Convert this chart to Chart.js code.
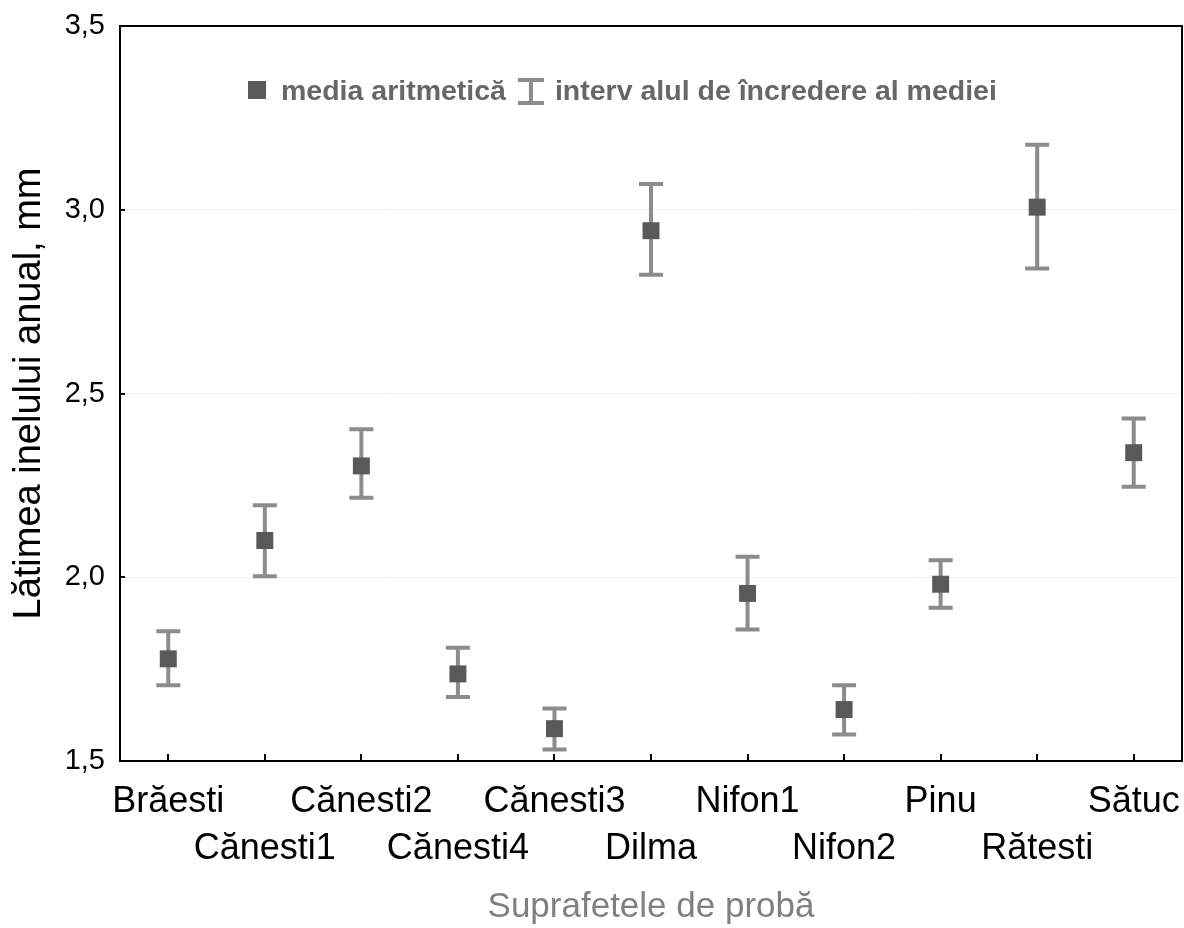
<!DOCTYPE html>
<html>
<head>
<meta charset="utf-8">
<script src="https://cdn.jsdelivr.net/npm/chart.js@4.4.0/dist/chart.umd.min.js"></script>
<style>
  html, body { margin: 0; padding: 0; background: #fff; }
  #wrap { width: 1184px; height: 928px; }
</style>
</head>
<body>
<div id="wrap"><canvas id="c" width="1184" height="928"></canvas></div>
<script>
// Sample plots and mean annual ring width (mm) with 95% confidence limits
const sites = ['Brăesti', 'Cănesti1', 'Cănesti2', 'Cănesti4', 'Cănesti3', 'Dilma', 'Nifon1', 'Nifon2', 'Pinu', 'Rătesti', 'Sătuc'];
const meanWidth = [1.778, 2.100, 2.303, 1.737, 1.588, 2.943, 1.956, 1.640, 1.981, 3.007, 2.339];
const ciLow     = [1.706, 2.003, 2.216, 1.674, 1.531, 2.823, 1.858, 1.572, 1.917, 2.840, 2.246];
const ciHigh    = [1.853, 2.196, 2.403, 1.808, 1.643, 3.070, 2.056, 1.706, 2.046, 3.177, 2.432];
const yTicks    = [1.5, 2.0, 2.5, 3.0, 3.5];

const FONT = '"Liberation Sans", Arial, sans-serif';
Chart.defaults.font.family = FONT;

const BAR_COLOR = '#8c8c8c';
const MARK_COLOR = '#595959';

// Confidence interval whiskers, drawn beneath the mean markers
const errorBars = {
  id: 'errorBars',
  beforeDatasetsDraw(chart) {
    const { ctx, scales: { x, y } } = chart;
    ctx.save();
    ctx.strokeStyle = BAR_COLOR;
    ctx.lineWidth = 4;
    sites.forEach((s, i) => {
      const px = x.getPixelForValue(i);
      const top = y.getPixelForValue(ciHigh[i]);
      const bot = y.getPixelForValue(ciLow[i]);
      ctx.beginPath();
      ctx.moveTo(px, top); ctx.lineTo(px, bot);
      ctx.moveTo(px - 12, top); ctx.lineTo(px + 12, top);
      ctx.moveTo(px - 12, bot); ctx.lineTo(px + 12, bot);
      ctx.stroke();
    });
    ctx.restore();
  }
};

// Plot frame with small inward tick marks
const frame = {
  id: 'frame',
  afterDraw(chart) {
    const { ctx, chartArea: a, scales: { x, y } } = chart;
    ctx.save();
    ctx.strokeStyle = '#000';
    ctx.lineWidth = 2;
    ctx.strokeRect(a.left, a.top, a.right - a.left, a.bottom - a.top);
    ctx.beginPath();
    sites.forEach((s, i) => {
      const px = Math.round(x.getPixelForValue(i));
      ctx.moveTo(px, a.bottom); ctx.lineTo(px, a.bottom - 7);
    });
    yTicks.slice(1, -1).forEach(v => {
      const py = Math.round(y.getPixelForValue(v));
      ctx.moveTo(a.left, py); ctx.lineTo(a.left + 5, py);
    });
    ctx.stroke();
    ctx.restore();
  }
};

// Legend placed inside the plot area
const legendBox = {
  id: 'legendBox',
  afterDraw(chart) {
    const { ctx, chartArea: a } = chart;
    ctx.save();
    const cy = a.top + 64;
    let x = a.left + 128;
    ctx.fillStyle = MARK_COLOR;
    ctx.fillRect(x, cy - 9, 18, 18);
    x += 33;
    ctx.font = 'bold 28.5px ' + FONT;
    ctx.fillStyle = '#676767';
    ctx.textBaseline = 'middle';
    const t1 = 'media aritmetică';
    ctx.fillText(t1, x, cy + 2);
    x += ctx.measureText(t1).width + 12;
    // whisker symbol
    ctx.strokeStyle = BAR_COLOR;
    ctx.lineWidth = 4;
    ctx.beginPath();
    ctx.moveTo(x + 13, cy - 10); ctx.lineTo(x + 13, cy + 13);
    ctx.moveTo(x, cy - 10); ctx.lineTo(x + 26, cy - 10);
    ctx.moveTo(x, cy + 13); ctx.lineTo(x + 26, cy + 13);
    ctx.stroke();
    x += 37;
    ctx.fillText('interv alul de încredere al mediei', x, cy + 2);
    ctx.restore();
  }
};

new Chart(document.getElementById('c'), {
  type: 'line',
  data: {
    labels: sites,
    datasets: [{
      label: 'media aritmetică',
      data: meanWidth,
      showLine: false,
      pointStyle: 'rect',
      pointRadius: 12,
      pointHoverRadius: 12,
      pointBorderWidth: 0,
      backgroundColor: MARK_COLOR,
      borderColor: MARK_COLOR
    }]
  },
  options: {
    responsive: false,
    animation: false,
    devicePixelRatio: 1,
    layout: { autoPadding: false, padding: { top: 26, right: 2, bottom: 0, left: 0 } },
    plugins: { legend: { display: false }, tooltip: { enabled: false } },
    scales: {
      x: {
        offset: true,
        grid: { display: false, drawTicks: false },
        border: { display: false },
        ticks: {
          autoSkip: false,
          maxRotation: 0,
          minRotation: 0,
          padding: 18,
          color: '#000',
          font: { size: 36, lineHeight: 1.3 },
          callback: (v, i) => (i % 2 === 0 ? [sites[i], ''] : ['', sites[i]])
        },
        title: {
          display: true,
          text: 'Suprafetele de probă',
          color: '#808080',
          font: { size: 35 },
          padding: { top: 0, bottom: 0 }
        },
        afterFit(s) { s.height = 167; s.paddingLeft = 0; s.paddingRight = 0; }
      },
      y: {
        min: 1.5,
        max: 3.5,
        afterBuildTicks(s) { s.ticks = yTicks.map(v => ({ value: v })); },
        grid: { color: '#ececec', lineWidth: 1, drawTicks: false },
        border: { display: false },
        ticks: {
          padding: 15,
          color: '#000',
          font: { size: 29 },
          callback: v => v.toFixed(1).replace('.', ',')
        },
        title: {
          display: true,
          text: 'Lătimea inelului anual, mm',
          color: '#000',
          font: { size: 38 },
          padding: { top: 7, bottom: 0 }
        },
        afterFit(s) { s.width = 120; s.paddingTop = 0; s.paddingBottom = 0; }
      }
    }
  },
  plugins: [errorBars, frame, legendBox]
});
</script>
</body>
</html>
